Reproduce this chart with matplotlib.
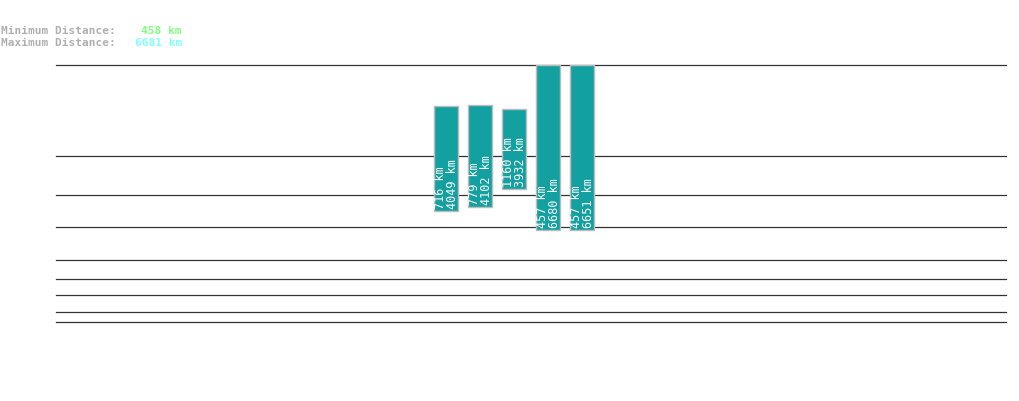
import matplotlib
matplotlib.use("Agg")
import matplotlib.pyplot as plt

min_km = [716, 779, 1160, 457, 457]
max_km = [4049, 4102, 3932, 6680, 6651]
bar_top = [107, 106, 110, 66, 66]
bar_bottom = [212, 208, 190, 231, 231]
grid_levels = [66, 157, 196, 228, 261, 280, 296, 313, 323]
overall_min = 458
overall_max = 6681

W, H = 1019, 402
fig = plt.figure(figsize=(W/100, H/100), dpi=100)
ax = fig.add_axes([0, 0, 1, 1])
ax.set_xlim(0, W); ax.set_ylim(H, 0); ax.axis('off')

for g in grid_levels:
    ax.plot([56, 1006], [g, g], color='#333333', lw=0.9, zorder=1)

for i, (a, b, t, bt) in enumerate(zip(min_km, max_km, bar_top, bar_bottom)):
    x = 446 + 34*i
    ax.bar(x, bt - t, bottom=t, width=24, color='#12a1a0', edgecolor='#bbbbbb', lw=1, zorder=3)
    ax.text(x + 1, bt - 3, f"{a} km\n{b} km", rotation=90, ha='center', va='bottom',
            multialignment='left', rotation_mode='default',
            color='white', fontsize=8.5, family='DejaVu Sans Mono', zorder=4, linespacing=0.9)

mono = dict(family='DejaVu Sans Mono', fontsize=8, va='center', fontweight='bold')
ax.text(1, 31, "Minimum Distance:", color='#b0b0b0', **mono)
ax.text(1, 43, "Maximum Distance:", color='#b0b0b0', **mono)
ax.text(182, 31, f"{overall_min} km", color='#80ff80', ha='right', **mono)
ax.text(182, 43, f"{overall_max} km", color='#80ffff', ha='right', **mono)

fig.savefig("out.png", dpi=100)
